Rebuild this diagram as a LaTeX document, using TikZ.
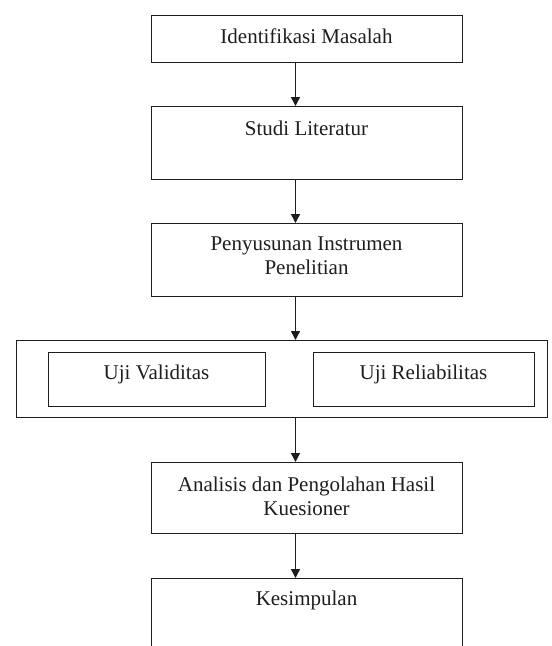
\documentclass[tikz,border=0pt]{standalone}
\usepackage{fontspec}
\setmainfont{Liberation Serif}
\usetikzlibrary{arrows.meta}
\definecolor{ink}{HTML}{1E1E1E}
\begin{document}
\begin{tikzpicture}[x=1pt,y=-1pt,
  box/.style={draw=ink,line width=1.4pt,rectangle,inner sep=0pt,anchor=north west},
  lbl/.style={anchor=base,inner sep=0pt,text=ink,font=\fontsize{21}{24}\selectfont},
  arr/.style={draw=ink,line width=1.4pt,-{Triangle[width=9pt,length=9pt]}}]
\useasboundingbox (0,0) rectangle (552,646);
\clip (0,0) rectangle (552,646);
% boxes
\node[box,minimum width=311pt,minimum height=47pt] (b1) at (151,15) {};
\node[box,minimum width=311pt,minimum height=73pt] (b2) at (151,106) {};
\node[box,minimum width=311pt,minimum height=73pt] (b3) at (151,223) {};
\node[box,minimum width=531pt,minimum height=77pt] (outer) at (16,340) {};
\node[box,minimum width=217pt,minimum height=54pt] (bv) at (48,352) {};
\node[box,minimum width=221pt,minimum height=54pt] (br) at (313,352) {};
\node[box,minimum width=311pt,minimum height=71pt] (b5) at (151,462) {};
\node[box,minimum width=311pt,minimum height=100pt] (b6) at (151,578) {};
% labels
\node[lbl] (t1) at (306.5,43) {Identifikasi Masalah};
\node[lbl] (t2) at (306.5,135) {Studi Literatur};
\node[lbl] (t3a) at (306.5,250) {Penyusunan Instrumen};
\node[lbl] (t3b) at (306.5,274) {Penelitian};
\node[lbl] (tv) at (156.5,379) {Uji Validitas};
\node[lbl] (tr) at (423.5,379) {Uji Reliabilitas};
\node[lbl] (t5a) at (306.5,491) {Analisis dan Pengolahan Hasil};
\node[lbl] (t5b) at (306.5,515) {Kuesioner};
\node[lbl] (t6) at (306.5,605) {Kesimpulan};
% arrows
\coordinate (ax) at (295.5,0);
\draw[arr] (b1.south -| ax) -- (b2.north -| ax);
\draw[arr] (b2.south -| ax) -- (b3.north -| ax);
\draw[arr] (b3.south -| ax) -- (outer.north -| ax);
\draw[arr] (outer.south -| ax) -- (b5.north -| ax);
\draw[arr] (b5.south -| ax) -- (b6.north -| ax);
\end{tikzpicture}
\end{document}
